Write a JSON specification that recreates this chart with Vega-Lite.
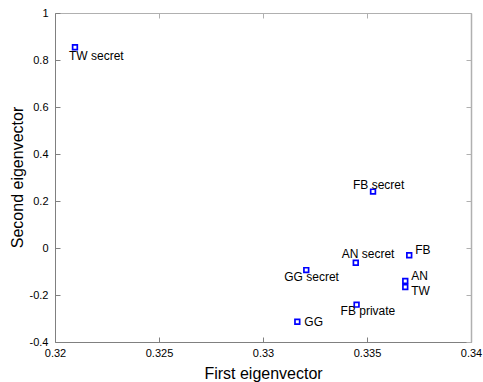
{
  "$schema": "https://vega.github.io/schema/vega-lite/v6.json",
  "width": 416,
  "height": 329,
  "autosize": {"type": "none"},
  "padding": {"left": 55, "top": 13, "right": 12, "bottom": 40},
  "background": "white",
  "config": {
    "font": "Liberation Sans",
    "view": {"stroke": null},
    "axis": {"grid": false, "labelFont": "Liberation Sans", "titleFont": "Liberation Sans", "labelColor": "black", "titleColor": "black", "labelFontSize": 11, "titleFontSize": 16, "titleFontWeight": "normal", "tickSize": -5, "tickColor": "#808080", "domainColor": "#808080"}
  },
  "data": {
    "values": [
      {"name": "TW secret", "x": 0.32096, "y": 0.854},
      {"name": "FB secret", "x": 0.33529, "y": 0.240},
      {"name": "FB", "x": 0.33703, "y": -0.031},
      {"name": "AN secret", "x": 0.33446, "y": -0.063},
      {"name": "GG secret", "x": 0.33208, "y": -0.094},
      {"name": "AN", "x": 0.33684, "y": -0.140},
      {"name": "TW", "x": 0.33684, "y": -0.166},
      {"name": "FB private", "x": 0.33450, "y": -0.241},
      {"name": "GG", "x": 0.33165, "y": -0.314}
    ]
  },
  "resolve": {"axis": {"x": "independent", "y": "independent"}},
  "encoding": {
    "x": {"field": "x", "type": "quantitative", "scale": {"domain": [0.32, 0.34], "nice": false, "zero": false}, "axis": null},
    "y": {"field": "y", "type": "quantitative", "scale": {"domain": [-0.4, 1], "nice": false, "zero": false}, "axis": null}
  },
  "layer": [
    {
      "mark": {"type": "rule", "opacity": 0},
      "encoding": {
        "x": {"field": "x", "type": "quantitative", "axis": {"orient": "top", "title": null, "labels": false, "values": [0.32, 0.325, 0.33, 0.335, 0.34], "domainColor": "#b0b0b0", "tickColor": "#b0b0b0"}},
        "y": {"field": "y", "type": "quantitative", "axis": {"orient": "right", "title": null, "labels": false, "values": [-0.4, -0.2, 0, 0.2, 0.4, 0.6, 0.8, 1], "domainColor": "#b0b0b0", "tickColor": "#b0b0b0", "domainWidth": 1.5}}
      }
    },
    {
      "mark": {"type": "point", "shape": "square", "size": 22, "filled": false, "color": "#0000ff", "strokeWidth": 1.7, "opacity": 1},
      "encoding": {
        "x": {"field": "x", "type": "quantitative", "axis": {"orient": "bottom", "title": "First eigenvector", "values": [0.32, 0.325, 0.33, 0.335, 0.34], "labelExpr": "replace(format(datum.value, '~g'), '\u2212', '-')", "labelPadding": 10, "titleBaseline": "alphabetic", "titleY": 36, "labelFlush": false}},
        "y": {"field": "y", "type": "quantitative", "axis": {"orient": "left", "title": "Second eigenvector", "values": [-0.4, -0.2, 0, 0.2, 0.4, 0.6, 0.8, 1], "labelExpr": "replace(format(datum.value, '~g'), '\u2212', '-')", "labelPadding": 12, "titleBaseline": "alphabetic", "titleX": -33, "titleY": 164, "labelFlush": false}}
      }
    },
    {"transform": [{"filter": "datum.name == 'TW secret'"}], "mark": {"type": "text", "align": "left", "baseline": "middle", "fontSize": 12, "dx": -6, "dy": 9}, "encoding": {"text": {"field": "name"}}},
    {"transform": [{"filter": "datum.name == 'FB secret'"}], "mark": {"type": "text", "align": "left", "baseline": "middle", "fontSize": 12, "dx": -20, "dy": -7}, "encoding": {"text": {"field": "name"}}},
    {"transform": [{"filter": "datum.name == 'FB'"}], "mark": {"type": "text", "align": "left", "baseline": "middle", "fontSize": 12, "dx": 6, "dy": -5}, "encoding": {"text": {"field": "name"}}},
    {"transform": [{"filter": "datum.name == 'AN secret'"}], "mark": {"type": "text", "align": "left", "baseline": "middle", "fontSize": 12, "dx": -14, "dy": -9}, "encoding": {"text": {"field": "name"}}},
    {"transform": [{"filter": "datum.name == 'GG secret'"}], "mark": {"type": "text", "align": "left", "baseline": "middle", "fontSize": 12, "dx": -22, "dy": 7}, "encoding": {"text": {"field": "name"}}},
    {"transform": [{"filter": "datum.name == 'AN'"}], "mark": {"type": "text", "align": "left", "baseline": "middle", "fontSize": 12, "dx": 6, "dy": -4.5}, "encoding": {"text": {"field": "name"}}},
    {"transform": [{"filter": "datum.name == 'TW'"}], "mark": {"type": "text", "align": "left", "baseline": "middle", "fontSize": 12, "dx": 6, "dy": 3.5}, "encoding": {"text": {"field": "name"}}},
    {"transform": [{"filter": "datum.name == 'FB private'"}], "mark": {"type": "text", "align": "left", "baseline": "middle", "fontSize": 12, "dx": -16, "dy": 6}, "encoding": {"text": {"field": "name"}}},
    {"transform": [{"filter": "datum.name == 'GG'"}], "mark": {"type": "text", "align": "left", "baseline": "middle", "fontSize": 12, "dx": 7, "dy": 0}, "encoding": {"text": {"field": "name"}}}
  ]
}
